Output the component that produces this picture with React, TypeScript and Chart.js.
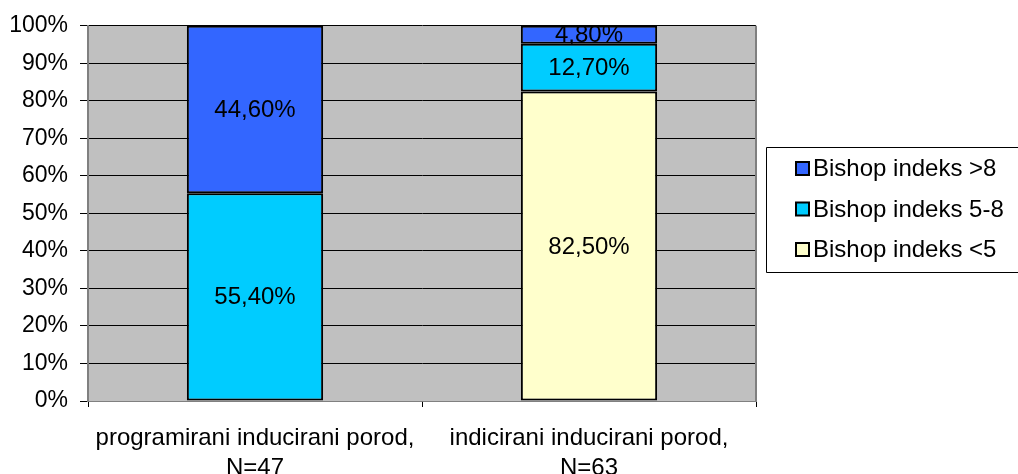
import React, { useEffect, useRef } from "react";
import { Chart, registerables } from "chart.js";

Chart.register(...registerables);

const categories: string[][] = [
  ["programirani inducirani porod,", "N=47"],
  ["indicirani inducirani porod,", "N=63"],
];
const seriesNames = ["Bishop indeks <5", "Bishop indeks 5-8", "Bishop indeks >8"];
const bishopLt5: (number | null)[] = [null, 82.5];
const bishop5to8: (number | null)[] = [55.4, 12.7];
const bishopGt8: (number | null)[] = [44.6, 4.8];
const seriesColors = ["#FFFFCC", "#00CCFF", "#3366FF"];
const yTicks = [0, 10, 20, 30, 40, 50, 60, 70, 80, 90, 100];

const FONT = "'Liberation Sans', Arial, sans-serif";
const FS = 24;
const FS_Y = 23;

const bgPlugin = {
  id: "plotBg",
  beforeDraw(chart: any) {
    const { ctx, chartArea: a } = chart;
    ctx.save();
    ctx.fillStyle = "#C0C0C0";
    ctx.fillRect(a.left, a.top, a.right - a.left, a.bottom - a.top);
    ctx.restore();
  },
  beforeDatasetsDraw(chart: any) {
    const { ctx, chartArea: a } = chart;
    ctx.save();
    ctx.strokeStyle = "#808080";
    ctx.lineWidth = 2;
    ctx.beginPath();
    ctx.moveTo(a.right, a.top);
    ctx.lineTo(a.right, a.bottom);
    ctx.stroke();
    ctx.restore();
  },
};

const labelPlugin = {
  id: "segLabels",
  afterDatasetsDraw(chart: any) {
    const { ctx } = chart;
    ctx.save();
    ctx.font = `${FS}px ${FONT}`;
    ctx.fillStyle = "#000";
    ctx.textAlign = "center";
    ctx.textBaseline = "middle";
    chart.data.datasets.forEach((ds: any, di: number) => {
      const meta = chart.getDatasetMeta(di);
      meta.data.forEach((el: any, i: number) => {
        const v = ds.data[i];
        if (v === null || v === undefined) return;
        const txt = v.toFixed(2).replace(".", ",") + "%";
        ctx.fillText(txt, el.x, (el.y + el.base) / 2 + 1);
      });
    });
    ctx.restore();
  },
};

const legendPlugin = {
  id: "boxLegend",
  afterDraw(chart: any) {
    const { ctx } = chart;
    const left = 766.5;
    const top = 147.5;
    const bottom = 272.5;
    ctx.save();
    ctx.strokeStyle = "#000";
    ctx.lineWidth = 1;
    ctx.beginPath();
    ctx.moveTo(1030, top);
    ctx.lineTo(left, top);
    ctx.lineTo(left, bottom);
    ctx.lineTo(1030, bottom);
    ctx.stroke();
    ctx.font = `${FS}px ${FONT}`;
    ctx.textBaseline = "middle";
    ctx.textAlign = "left";
    const ds = chart.data.datasets.slice().reverse();
    ds.forEach((d: any, i: number) => {
      const cy = 168.5 + i * 40.5;
      ctx.fillStyle = d.backgroundColor;
      ctx.fillRect(796, cy - 6.5, 13, 13);
      ctx.strokeStyle = "#000";
      ctx.lineWidth = 2;
      ctx.strokeRect(796, cy - 6.5, 13, 13);
      ctx.fillStyle = "#000";
      ctx.fillText(d.label, 813, cy + 1);
    });
    ctx.restore();
  },
};

export default function App() {
  const ref = useRef<HTMLCanvasElement | null>(null);
  useEffect(() => {
    if (!ref.current) return;
    const data = [bishopLt5, bishop5to8, bishopGt8];
    const chart = new Chart(ref.current, {
      type: "bar",
      data: {
        labels: categories,
        datasets: seriesNames.map((name, i) => ({
          label: name,
          data: data[i],
          backgroundColor: seriesColors[i],
          borderColor: "#000",
          borderWidth: 2,
          borderSkipped: false,
          categoryPercentage: 1,
          barPercentage: 0.408,
        })),
      },
      options: {
        animation: false,
        responsive: true,
        maintainAspectRatio: false,
        layout: { padding: { left: 0, top: 24, right: 262, bottom: 0 } },
        plugins: {
          legend: { display: false },
          tooltip: { enabled: false },
        },
        scales: {
          x: {
            stacked: true,
            afterFit: (s: any) => {
              s.height = 73;
            },
            grid: {
              display: true,
              drawOnChartArea: false,
              drawTicks: true,
              tickLength: 6,
              offset: true,
              color: "#000",
            },
            border: { display: true, color: "#808080", width: 1 },
            ticks: {
              color: "#000",
              padding: 16,
              font: { family: FONT, size: FS, lineHeight: 30 / FS },
              maxRotation: 0,
              autoSkip: false,
            },
          },
          y: {
            stacked: true,
            min: 0,
            max: 100,
            afterFit: (s: any) => {
              s.width = 88;
            },
            afterBuildTicks: (s: any) => {
              s.ticks = yTicks.map((v) => ({ value: v }));
            },
            grid: {
              color: "#000",
              lineWidth: 1,
              tickLength: 8,
            },
            border: { display: true, color: "#808080", width: 2 },
            ticks: {
              color: "#000",
              padding: 12,
              font: { family: FONT, size: FS_Y },
              callback: (v: any) => v + "%",
            },
          },
        },
      },
      plugins: [bgPlugin, labelPlugin, legendPlugin],
    });
    return () => chart.destroy();
  }, []);

  return (
    <div style={{ position: "fixed", left: 0, top: 0, width: 1018, height: 474, background: "#fff" }}>
      <canvas ref={ref} />
    </div>
  );
}
